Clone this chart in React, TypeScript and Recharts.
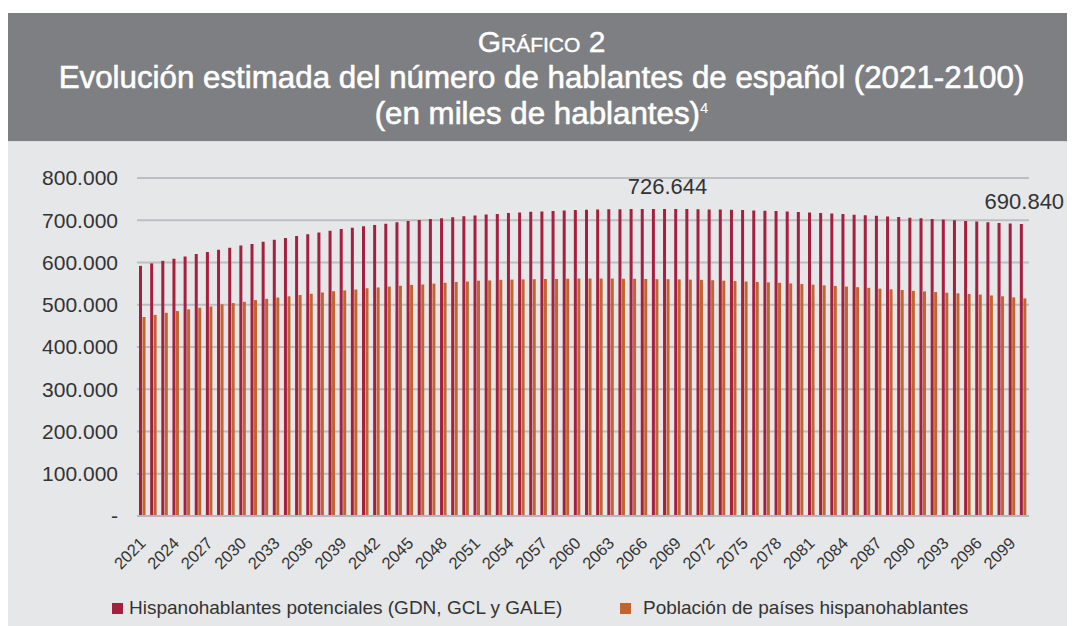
import React from 'react';
import { BarChart, Bar, XAxis, YAxis, CartesianGrid, LabelList } from 'recharts';

// Years (categories)
const years = [
  2021, 2022, 2023, 2024, 2025, 2026, 2027, 2028, 2029, 2030,
  2031, 2032, 2033, 2034, 2035, 2036, 2037, 2038, 2039, 2040,
  2041, 2042, 2043, 2044, 2045, 2046, 2047, 2048, 2049, 2050,
  2051, 2052, 2053, 2054, 2055, 2056, 2057, 2058, 2059, 2060,
  2061, 2062, 2063, 2064, 2065, 2066, 2067, 2068, 2069, 2070,
  2071, 2072, 2073, 2074, 2075, 2076, 2077, 2078, 2079, 2080,
  2081, 2082, 2083, 2084, 2085, 2086, 2087, 2088, 2089, 2090,
  2091, 2092, 2093, 2094, 2095, 2096, 2097, 2098, 2099, 2100,
];

// Hispanohablantes potenciales (GDN, GCL y GALE), miles de hablantes
const potenciales = [
  592000, 598000, 604000, 609000, 614000, 620000, 625000, 630000, 635000, 640000,
  644000, 649000, 654000, 658000, 663000, 667000, 671000, 675000, 679000, 682000,
  686000, 689000, 692000, 695000, 698000, 700500, 703000, 705000, 707000, 709500,
  711500, 713500, 715000, 717000, 718500, 720000, 721000, 722000, 723000, 724000,
  724800, 725400, 725900, 726200, 726400, 726550, 726620, 726644, 726600, 726400,
  726100, 725700, 725200, 724600, 724000, 723300, 722500, 721600, 720600, 719600,
  718500, 717300, 716000, 714700, 713300, 711900, 710400, 709000, 707600, 706100,
  704600, 703100, 701600, 700000, 698400, 696800, 695200, 693600, 692200, 690840,
];

// Población de países hispanohablantes, miles de habitantes
const poblacion = [
  471000, 476000, 481000, 485000, 489000, 493000, 496000, 501000, 504000, 507000,
  511000, 514000, 517000, 520000, 523000, 526000, 529000, 532000, 534000, 536000,
  539000, 541000, 543000, 545000, 547000, 548000, 550000, 552000, 554000, 555000,
  557000, 557500, 559000, 559500, 560000, 560500, 561000, 561000, 561500, 562000,
  562000, 562000, 562000, 561500, 561500, 561000, 560500, 560500, 560000, 559500,
  559000, 558000, 557000, 556000, 555000, 554000, 553000, 552000, 550500, 549000,
  547500, 546000, 544500, 543000, 541500, 540000, 538000, 536500, 535000, 533000,
  531500, 530000, 528500, 527000, 525500, 524000, 522000, 520000, 517500, 515000,
];

const yTicks = [0, 100000, 200000, 300000, 400000, 500000, 600000, 700000, 800000];

// Only these points get a value label
const labelledYears = [2068, 2100];

const RED = '#a61f3f';
const ORANGE = '#bf652f';
const FONT = '"Liberation Sans", Arial, Helvetica, sans-serif';

const fmt = (v: number) => (v === 0 ? '-' : Math.round(v).toLocaleString('de-DE'));

const chartData = years.map((year, i) => ({
  year: String(year),
  potenciales: potenciales[i],
  poblacion: poblacion[i],
}));

const PeakLabel = (props: any) => {
  const { x, y, width, value, index } = props;
  if (!labelledYears.includes(years[index])) return null;
  return (
    <text x={x + width / 2 + 3} y={y - 15} textAnchor="middle" fontSize={22} fill="#333" fontFamily={FONT}>
      {fmt(value)}
    </text>
  );
};

const titleLine: React.CSSProperties = {
  fontSize: 31.3,
  WebkitTextStroke: '0.6px #fff',
  whiteSpace: 'nowrap',
};

const App: React.FC = () => {
  return (
    <div style={{ marginTop: 5, width: 1067, fontFamily: FONT }}>
      <div
        style={{
          height: 128,
          background: '#7e7f83',
          color: '#fff',
          textAlign: 'center',
          paddingTop: 11,
          boxSizing: 'border-box',
          lineHeight: '35px',
        }}
      >
        <div style={{ fontSize: 30, fontVariant: 'small-caps', WebkitTextStroke: '0.4px #fff' }}>Gráfico 2</div>
        <div style={{ ...titleLine, marginTop: 1 }}>Evolución estimada del número de hablantes de español (2021-2100)</div>
        <div style={{ ...titleLine, marginTop: 1 }}>
          (en miles de hablantes)<sup style={{ fontSize: 15, WebkitTextStroke: '0px', lineHeight: 0 }}>4</sup>
        </div>
      </div>
      <div style={{ height: 1, background: '#d9dadc' }} />
      <div style={{ position: 'relative', height: 484, background: '#e6e7e9' }}>
        <BarChart
          width={1067}
          height={440}
          data={chartData}
          margin={{ top: 36, right: 46, left: 0, bottom: 0 }}
          barSize={3}
          barGap={0.5}
        >
          <CartesianGrid vertical={false} stroke="#bdbec1" strokeWidth={2} />
          <XAxis
            dataKey="year"
            interval={2}
            angle={-45}
            textAnchor="end"
            height={66}
            tickSize={0}
            tickMargin={20}
            tickLine={false}
            axisLine={{ stroke: '#b6b7ba', strokeWidth: 2 }}
            tick={{ fontSize: 16.5, fill: '#333', fontFamily: FONT, dx: -4 }}
          />
          <YAxis
            domain={[0, 800000]}
            ticks={yTicks}
            tickFormatter={fmt}
            width={129}
            tickSize={0}
            tickMargin={19}
            axisLine={false}
            tickLine={false}
            tick={{ fontSize: 21, fill: '#333', fontFamily: FONT }}
          />
          <Bar dataKey="potenciales" fill={RED} isAnimationActive={false}>
            <LabelList dataKey="potenciales" content={PeakLabel} />
          </Bar>
          <Bar dataKey="poblacion" fill={ORANGE} isAnimationActive={false} />
        </BarChart>
        <div style={{ position: 'absolute', top: 455, left: 104, display: 'flex', alignItems: 'center', fontSize: 19, color: '#333' }}>
          <span style={{ display: 'inline-block', width: 11, height: 11, background: RED, marginRight: 6 }} />
          Hispanohablantes potenciales (GDN, GCL y GALE)
        </div>
        <div style={{ position: 'absolute', top: 455, left: 612, display: 'flex', alignItems: 'center', fontSize: 19, color: '#333' }}>
          <span style={{ display: 'inline-block', width: 11, height: 11, background: ORANGE, marginRight: 12 }} />
          Población de países hispanohablantes
        </div>
      </div>
    </div>
  );
};

export default App;
